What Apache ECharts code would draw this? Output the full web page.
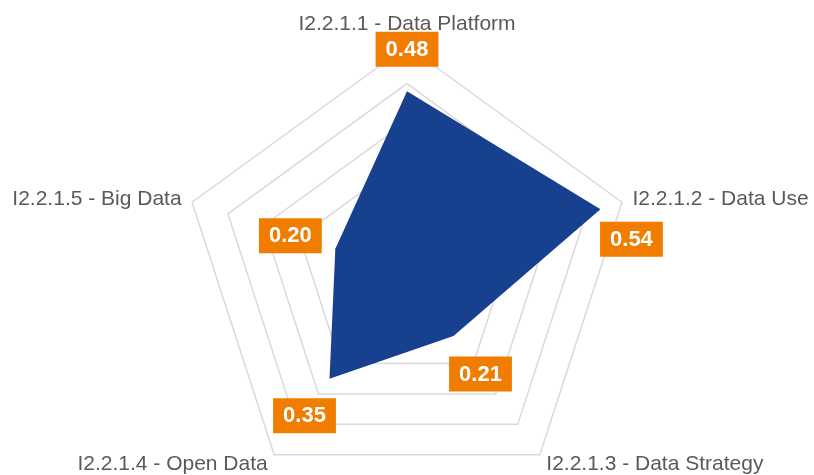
<!DOCTYPE html>
<html>
<head>
<meta charset="utf-8">
<script src="https://cdn.jsdelivr.net/npm/echarts@6/dist/echarts.min.js"></script>
<style>
  html, body { margin: 0; padding: 0; background: #fff; }
  #chart { width: 814px; height: 475px; }
</style>
</head>
<body>
<div id="chart"></div>
<script>
const indicadores = [
  "I2.2.1.1 - Data Platform",
  "I2.2.1.2 - Data Use",
  "I2.2.1.3 - Data Strategy",
  "I2.2.1.4 - Open Data",
  "I2.2.1.5 - Big Data"
];
const valores = [0.48, 0.54, 0.21, 0.35, 0.20];
// desplazamiento de cada etiqueta respecto a su vertice
const desplazamientos = [[0, -42], [31, 30], [27, 38], [-25, 37], [-45, -13]];

// echarts dibuja los ejes en sentido antihorario, se reordenan para ir en sentido horario
const orden = [0, 4, 3, 2, 1];
const ord = (arr) => orden.map((i) => arr[i]);

const chart = echarts.init(document.getElementById("chart"));

// un item por etiqueta, solo con el valor de su eje
const etiquetas = valores.map((v, i) => ({
  value: ord(valores.map((x, j) => (j === i ? x : null))),
  label: { offset: desplazamientos[i] }
}));

const option = {
  animation: false,
  radar: {
    center: [407, 272],
    radius: 226,
    startAngle: 90,
    splitNumber: 6,
    shape: "polygon",
    indicator: ord(indicadores).map((n) => ({ name: n, min: 0, max: 0.6 })),
    axisName: {
      color: "#595959",
      fontSize: 21,
      fontFamily: "Liberation Sans, Arial, sans-serif"
    },
    nameGap: 11,
    axisLine: { show: false },
    axisTick: { show: false },
    axisLabel: { show: false },
    splitArea: { show: false },
    splitLine: { lineStyle: { color: "#D9D9D9", width: 1.5 } }
  },
  series: [
    {
      type: "radar",
      symbol: "none",
      lineStyle: { width: 0 },
      areaStyle: { color: "#17408F", opacity: 1 },
      data: [{ value: ord(valores) }]
    },
    {
      type: "radar",
      symbol: "circle",
      symbolSize: 1,
      itemStyle: { color: "rgba(0,0,0,0)" },
      lineStyle: { width: 0, opacity: 0 },
      label: {
        show: true,
        position: "inside",
        formatter: (p) => (p.value == null || isNaN(p.value) ? "" : "{b|" + Number(p.value).toFixed(2) + "}"),
        rich: {
          b: {
            color: "#fff",
            fontWeight: "bold",
            fontSize: 22,
            lineHeight: 22,
            fontFamily: "Liberation Sans, Arial, sans-serif",
            backgroundColor: "#F07D00",
            padding: [7, 10, 6, 10]
          }
        }
      },
      data: etiquetas
    }
  ]
};

chart.setOption(option);
</script>
</body>
</html>
